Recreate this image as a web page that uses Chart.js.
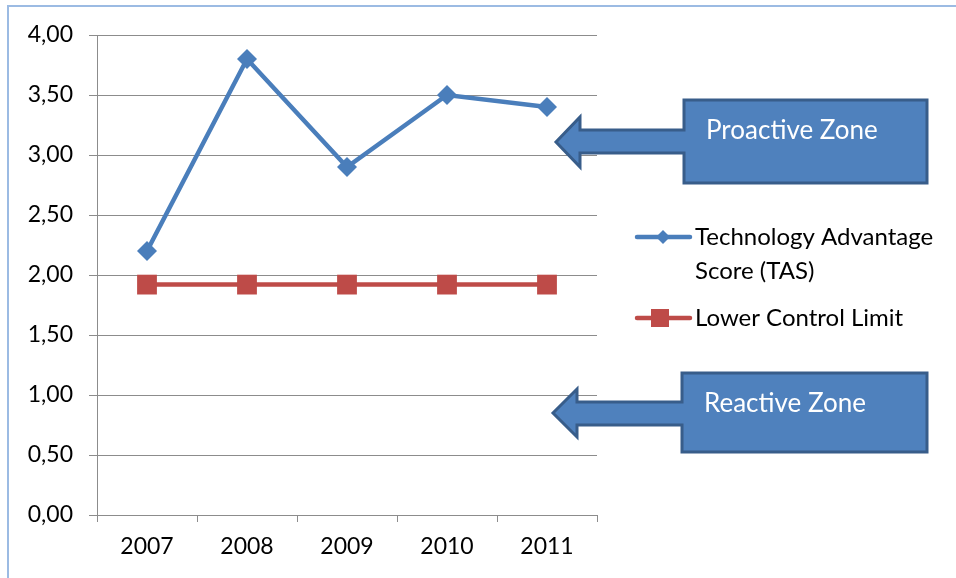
<!DOCTYPE html>
<html>
<head>
<meta charset="utf-8">
<script src="https://cdn.jsdelivr.net/npm/chart.js@4"></script>
<style>
  html, body { margin: 0; padding: 0; background: #fff; }
  #wrap { position: relative; width: 956px; height: 578px; }
</style>
</head>
<body>
<div id="wrap"><canvas id="tasChart" width="956" height="578"></canvas></div>
<script>
// Data
const years = ['2007', '2008', '2009', '2010', '2011'];
const tasValues = [2.20, 3.80, 2.90, 3.50, 3.40];
const lclValues = [1.92, 1.92, 1.92, 1.92, 1.92];
const seriesNames = ['Technology Advantage Score (TAS)', 'Lower Control Limit'];
const zoneLabels = ['Proactive Zone', 'Reactive Zone'];

const COLORS = {
    tas: '#4a7ebb',
    lcl: '#be4b48',
    grid: '#8c8c8c',
    text: '#000000',
    calloutFill: '#4f81bd',
    calloutStroke: '#385d8a',
    frame: '#9cbbe3'
};
const FONT = "Lato, 'Open Sans', sans-serif";

// left arrow callout: box + arrow pointing left
function drawCallout(ctx, c) {
    ctx.save();
    ctx.beginPath();
    ctx.moveTo(c.boxL, c.boxT);
    ctx.lineTo(c.boxR, c.boxT);
    ctx.lineTo(c.boxR, c.boxB);
    ctx.lineTo(c.boxL, c.boxB);
    ctx.lineTo(c.boxL, c.shaftB);
    ctx.lineTo(c.headX, c.shaftB);
    ctx.lineTo(c.headX, c.headB);
    ctx.lineTo(c.tipX, c.tipY);
    ctx.lineTo(c.headX, c.headT);
    ctx.lineTo(c.headX, c.shaftT);
    ctx.lineTo(c.boxL, c.shaftT);
    ctx.closePath();
    ctx.fillStyle = COLORS.calloutFill;
    ctx.fill();
    ctx.lineWidth = 3;
    ctx.lineJoin = 'miter';
    ctx.strokeStyle = COLORS.calloutStroke;
    ctx.stroke();
    ctx.fillStyle = '#ffffff';
    ctx.font = '26px ' + FONT;
    ctx.textBaseline = 'middle';
    ctx.textAlign = 'left';
    ctx.fillText(c.text, c.textX, c.textY);
    ctx.restore();
}

const decorPlugin = {
    id: 'decor',
    beforeDraw(chart) {
        const ctx = chart.ctx;
        ctx.save();
        ctx.strokeStyle = COLORS.frame;
        ctx.lineWidth = 2;
        ctx.beginPath();
        ctx.moveTo(8, 578);
        ctx.lineTo(8, 6);
        ctx.lineTo(956, 6);
        ctx.stroke();
        ctx.restore();
    },
    afterDraw(chart) {
        const ctx = chart.ctx;
        // legend
        const items = [
            { ds: 0, y: 237, lines: ['Technology Advantage', 'Score (TAS)'] },
            { ds: 1, y: 318, lines: ['Lower Control Limit'] }
        ];
        items.forEach(it => {
            const ds = chart.data.datasets[it.ds];
            ctx.save();
            ctx.strokeStyle = ds.borderColor;
            ctx.lineWidth = 4.5;
            ctx.lineCap = 'round';
            ctx.beginPath();
            ctx.moveTo(637, it.y);
            ctx.lineTo(690, it.y);
            ctx.stroke();
            ctx.fillStyle = ds.pointBackgroundColor;
            if (it.ds === 0) {
                ctx.beginPath();
                ctx.moveTo(663, it.y - 7);
                ctx.lineTo(670, it.y);
                ctx.lineTo(663, it.y + 7);
                ctx.lineTo(656, it.y);
                ctx.closePath();
                ctx.fill();
            } else {
                ctx.fillRect(651, it.y - 9, 18, 18);
            }
            ctx.fillStyle = COLORS.text;
            ctx.font = '24px ' + FONT;
            ctx.textBaseline = 'middle';
            it.lines.forEach((ln, i) => ctx.fillText(ln, 695, it.y + i * 34));
            ctx.restore();
        });
        drawCallout(ctx, {
            boxL: 684, boxT: 100, boxR: 927, boxB: 183,
            shaftT: 130, shaftB: 153, headX: 580, headT: 117, headB: 167,
            tipX: 556, tipY: 142, text: zoneLabels[0], textX: 706, textY: 131
        });
        drawCallout(ctx, {
            boxL: 682, boxT: 373, boxR: 927, boxB: 452,
            shaftT: 402, shaftB: 425, headX: 577, headT: 389, headB: 437,
            tipX: 553, tipY: 413, text: zoneLabels[1], textX: 704, textY: 404
        });
    }
};

new Chart(document.getElementById('tasChart'), {
    type: 'line',
    data: {
        labels: years,
        datasets: [
            {
                label: seriesNames[0],
                data: tasValues,
                borderColor: COLORS.tas,
                backgroundColor: COLORS.tas,
                pointBackgroundColor: COLORS.tas,
                pointBorderColor: COLORS.tas,
                borderWidth: 4.5,
                pointStyle: 'rectRot',
                pointRadius: 10,
                pointBorderWidth: 0,
                tension: 0
            },
            {
                label: seriesNames[1],
                data: lclValues,
                borderColor: COLORS.lcl,
                backgroundColor: COLORS.lcl,
                pointBackgroundColor: COLORS.lcl,
                pointBorderColor: COLORS.lcl,
                borderWidth: 4.5,
                pointStyle: 'rect',
                pointRadius: 14,
                pointBorderWidth: 0,
                tension: 0
            }
        ]
    },
    options: {
        responsive: false,
        animation: false,
        layout: { padding: { left: 0, top: 35, right: 359, bottom: 0 } },
        plugins: {
            legend: { display: false },
            tooltip: { enabled: false }
        },
        scales: {
            x: {
                offset: true,
                grid: {
                    offset: true,
                    drawOnChartArea: false,
                    drawTicks: true,
                    tickLength: 7,
                    color: COLORS.grid
                },
                border: { color: COLORS.grid, width: 1 },
                ticks: {
                    color: COLORS.text,
                    padding: 11,
                    font: { family: FONT, size: 23 }
                },
                afterFit(scale) { scale.height = 63; }
            },
            y: {
                min: 0,
                max: 4,
                grid: {
                    color: COLORS.grid,
                    tickLength: 8
                },
                border: { color: COLORS.grid, width: 1 },
                ticks: {
                    stepSize: 0.5,
                    color: COLORS.text,
                    padding: 16,
                    font: { family: FONT, size: 23 },
                    callback: v => v.toFixed(2).replace('.', ',')
                },
                afterFit(scale) { scale.width = 97; }
            }
        }
    },
    plugins: [decorPlugin]
});
</script>
</body>
</html>
